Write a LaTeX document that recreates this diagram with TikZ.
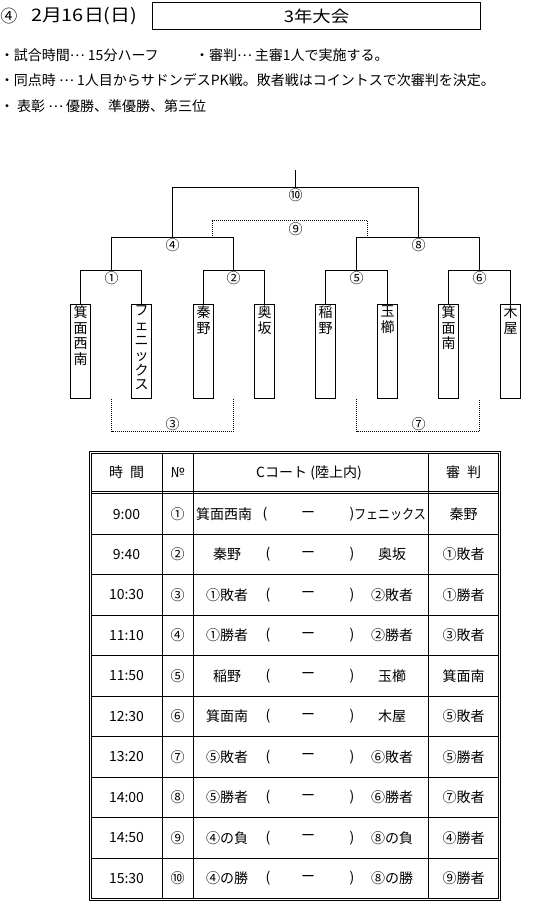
\documentclass[tikz,border=0pt]{standalone}
\usepackage{fontspec}
\setmainfont{Noto Sans CJK JP}
\newfontfamily\widejp[FakeStretch=1.15]{Noto Sans CJK JP}
\newfontfamily\narrowjp[FakeStretch=0.86]{Noto Sans CJK JP}
\newcommand{\mdots}{\raisebox{0.3em}{…}}
\begin{document}
\begin{tikzpicture}[x=1pt,y=-1pt,
  every node/.style={inner sep=0pt, outer sep=0pt},
  line/.style={line width=1pt},
  dots/.style={line width=0.8pt, dash pattern=on 1pt off 1pt},
  team/.style={draw, line width=1pt, minimum width=20pt, minimum height=94pt},
  vname/.style={anchor=north, align=center, font=\fontsize{14}{15.5}\selectfont},
  vkana/.style={anchor=north, align=center, font=\fontsize{14}{14.8}\selectfont},
  lbl/.style={font=\fontsize{14}{14}\selectfont},
  cell/.style={font=\fontsize{14}{14}\selectfont},
  body/.style={anchor=west, font=\fontsize{14}{14}\selectfont},
  grid/.style={line width=0.9pt},
]
\useasboundingbox (0,0) rectangle (553,906);

% ---- heading ----
\node[font=\fontsize{17}{17}\selectfont] (c4) at (9,16) {④};
\node[anchor=west, font=\widejp\fontsize{17.3}{17.3}\selectfont] (date) at (31,16) {2月16日(日)};
\node[draw, line width=1pt, minimum width=328pt, minimum height=27pt,
      font=\widejp\fontsize{16}{16}\selectfont] (title) at (316.5,16) {3年大会};

\node[body] (r1a) at (0,55) {・試合時間\mdots\ 15分ハーフ};
\node[body] (r1b) at (195,55) {・審判\mdots\ 主審1人で実施する。};
\node[body] (r2) at (0,80) {・同点時 \mdots\ 1人目からサドンデスPK戦。敗者戦はコイントスで次審判を決定。};
\node[body] (r3) at (0,106) {・ 表彰 \mdots\ 優勝、準優勝、第三位};

% ---- team boxes ----
\node[team] (t1) at (80.5,351.5) {};
\node[team] (t2) at (141.5,351.5) {};
\node[team] (t3) at (203.5,351.5) {};
\node[team] (t4) at (264.5,351.5) {};
\node[team] (t5) at (325.5,351.5) {};
\node[team] (t6) at (387.5,351.5) {};
\node[team] (t7) at (448.5,351.5) {};
\node[team] (t8) at (510.5,351.5) {};
\node[vname] (n1) at (80.5,306) {箕\\面\\西\\南};
\node[vkana] (n2) at (141.5,306) {フ\\ェ\\ニ\\ッ\\ク\\ス};
\node[vname] (n3) at (203.5,306) {秦\\野};
\node[vname] (n4) at (264.5,306) {奥\\坂};
\node[vname] (n5) at (325.5,306) {稲\\野};
\node[vname] (n6) at (387.5,306) {玉\\櫛};
\node[vname] (n7) at (448.5,306) {箕\\面\\南};
\node[vname] (n8) at (510.5,306) {木\\屋};

% ---- bracket ----
\coordinate (m1) at (111.5,270.5);
\coordinate (m2) at (233.5,270.5);
\coordinate (m5) at (356.5,270.5);
\coordinate (m6) at (479.5,270.5);
\coordinate (m4) at (172.5,237.5);
\coordinate (m8) at (418.5,237.5);
\coordinate (m10) at (295.5,187.5);
\coordinate (top) at (295.5,170);
\draw[line] (t1.north) |- (m1) -| (t2.north);
\draw[line] (t3.north) |- (m2) -| (t4.north);
\draw[line] (t5.north) |- (m5) -| (t6.north);
\draw[line] (t7.north) |- (m6) -| (t8.north);
\draw[line] (m1) |- (m4) -| (m2);
\draw[line] (m5) |- (m8) -| (m6);
\draw[line] (m4) |- (m10) -| (m8);
\draw[line] (top) -- (m10);

\coordinate (d9a) at (212.5,237.5);
\coordinate (d9b) at (367.5,237.5);
\coordinate (m9) at (295.5,220.5);
\draw[dots] (d9a) |- (m9) -| (d9b);

\coordinate (b1) at (111.5,399);
\coordinate (b2) at (233.5,399);
\coordinate (m3) at (172.5,431.5);
\draw[dots] (b1) |- (m3) -| (b2);
\coordinate (b5) at (356.5,399);
\coordinate (b6) at (479.5,399);
\coordinate (m7) at (418.5,431.5);
\draw[dots] (b5) |- (m7) -| (b6);

\node[lbl] (l1) at (111.5,278.5) {①};
\node[lbl] (l2) at (233.5,278.5) {②};
\node[lbl] (l5) at (356.5,278.5) {⑤};
\node[lbl] (l6) at (479.5,278.5) {⑥};
\node[lbl] (l4) at (172.5,245.5) {④};
\node[lbl] (l8) at (418.5,245.5) {⑧};
\node[lbl] (l10) at (295.5,195) {⑩};
\node[lbl] (l9) at (295.5,229) {⑨};
\node[lbl] (l3) at (172.5,424) {③};
\node[lbl] (l7) at (418.5,424) {⑦};

% ---- table ----
\draw[grid] (89.5,451.5) rectangle (500.5,900.5);
\draw[grid] (91.5,453.5) rectangle (498.5,898.5);
\draw[grid] (91.5,491.5) -- (498.5,491.5);
\draw[grid] (91.5,493.5) -- (498.5,493.5);
\foreach \xx in {162.5,193.5,428.5} \draw[grid] (\xx,453.5) -- (\xx,898.5);
\foreach \k in {1,...,9} {
  \pgfmathsetmacro\ly{floor(493.5+40.5*\k)+0.5}
  \draw[grid] (91.5,\ly) -- (498.5,\ly);
}

\node[cell] (h1) at (126.5,472.5) {時\hspace{7pt}間};
\node[cell] (h2) at (177.5,472.5) {№};
\node[cell] (h3) at (309,472.5) {Cコート (陸上内)};
\node[cell] (h4) at (463.5,472.5) {審\hspace{7pt}判};

% row 1
\node[cell] (tm1) at (126.5,514) {9:00};
\node[cell] (no1) at (177.5,514) {①};
\node[cell] (a1) at (224,514) {箕面西南};
\node[cell] (p1) at (265,514) {(};
\node[cell] (s1) at (308,514) {ー};
\node[cell] (q1) at (352,514) {)};
\node[cell, anchor=west, font=\narrowjp\fontsize{14}{14}\selectfont] (b1n) at (354,514) {フェニックス};
\node[cell] (rf1) at (463.5,514) {秦野};

\foreach \t/\n/\a/\b/\r [count=\i from 2] in {
  9:40/②/秦野/奥坂/①敗者,
  10:30/③/①敗者/②敗者/①勝者,
  11:10/④/①勝者/②勝者/③敗者,
  11:50/⑤/稲野/玉櫛/箕面南,
  12:30/⑥/箕面南/木屋/⑤敗者,
  13:20/⑦/⑤敗者/⑥敗者/⑤勝者,
  14:00/⑧/⑤勝者/⑥勝者/⑦敗者,
  14:50/⑨/④の負/⑧の負/④勝者,
  15:30/⑩/④の勝/⑧の勝/⑨勝者} {
  \pgfmathsetmacro\yy{493.5+40.5*(\i-0.5)}
  \node[cell] (tm\i) at (126.5,\yy) {\t};
  \node[cell] (no\i) at (177.5,\yy) {\n};
  \node[cell] (a\i) at (227,\yy) {\a};
  \node[cell] (p\i) at (268,\yy) {(};
  \node[cell] (s\i) at (308,\yy) {ー};
  \node[cell] (q\i) at (352,\yy) {)};
  \node[cell] (b\i n) at (392,\yy) {\b};
  \node[cell] (rf\i) at (463.5,\yy) {\r};
}
\end{tikzpicture}
\end{document}
